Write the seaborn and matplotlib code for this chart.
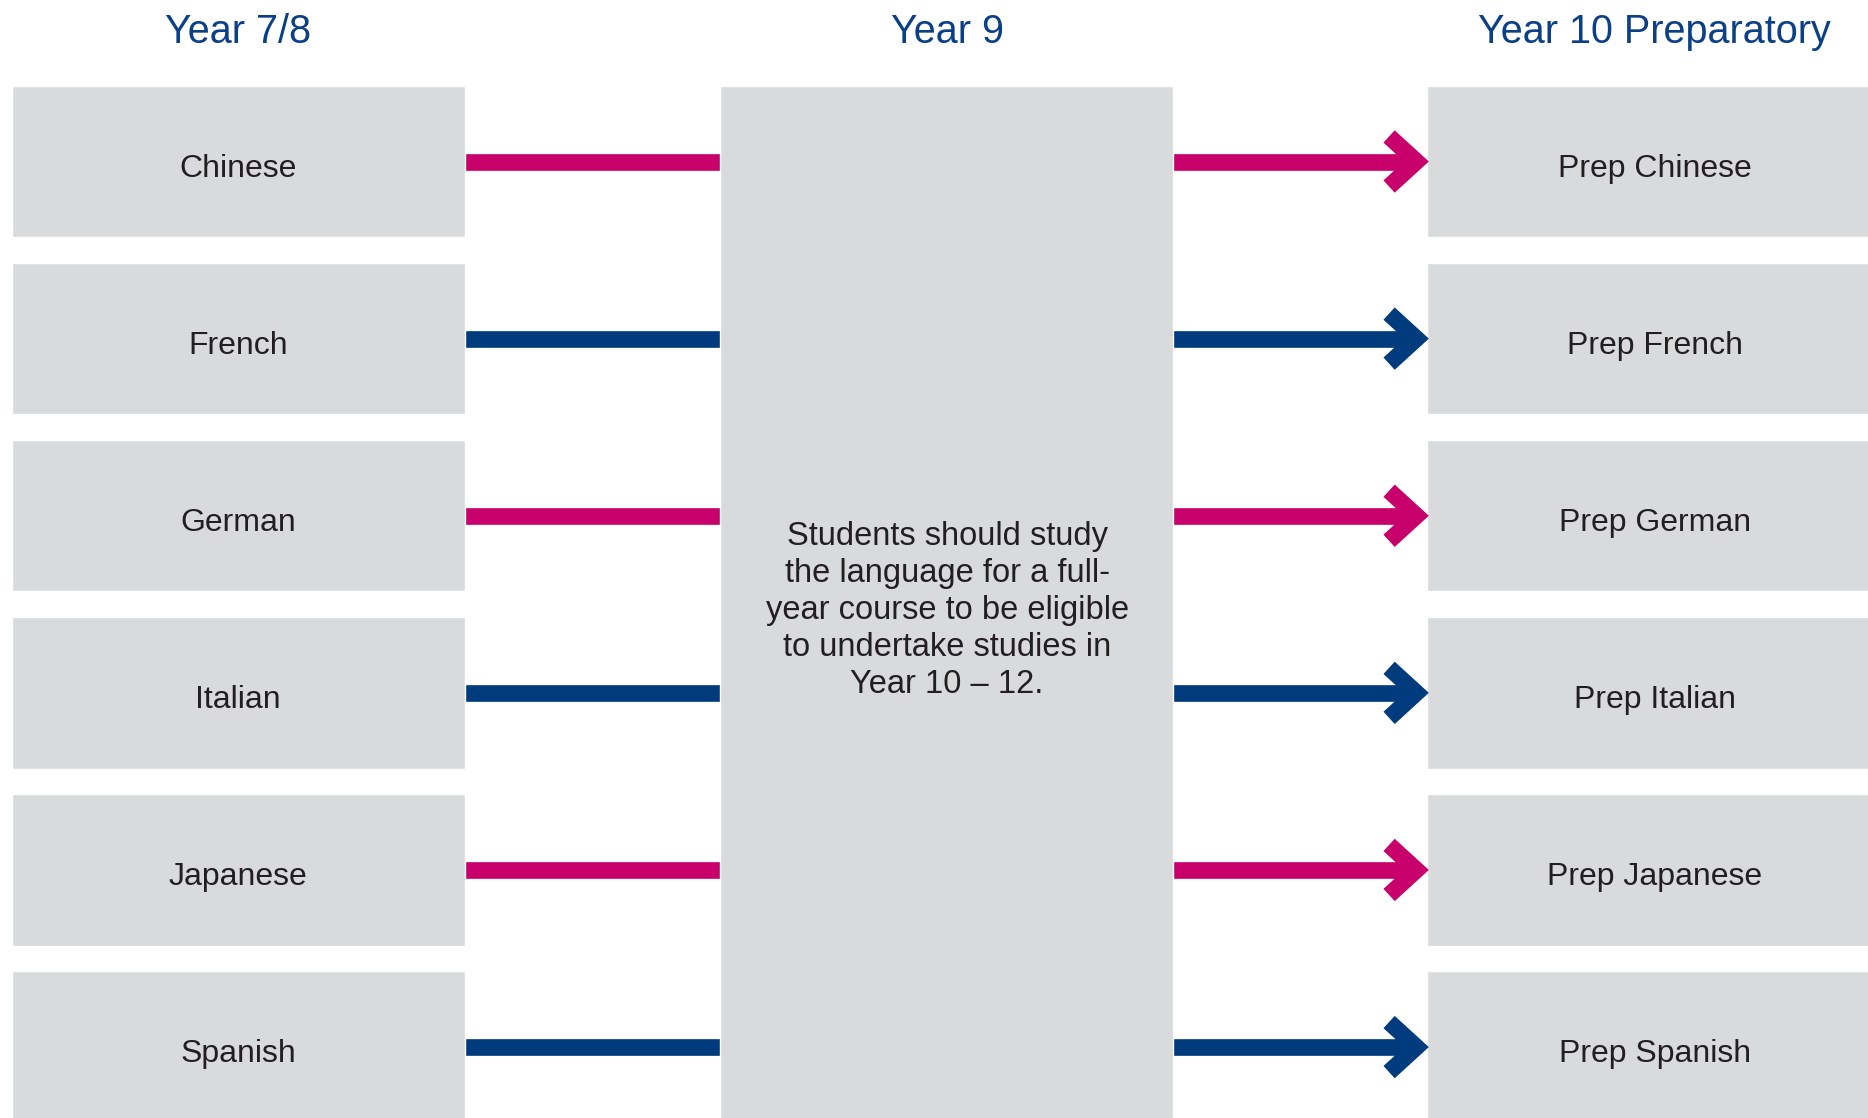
"""Year 7/8 -> Year 9 -> Year 10 language pathway diagram."""
import matplotlib.pyplot as plt
import seaborn as sns

# --- content -------------------------------------------------------------
HEADERS = ["Year 7/8", "Year 9", "Year 10 Preparatory"]
LANGUAGES = ["Chinese", "French", "German", "Italian", "Japanese", "Spanish"]
PREP_LABELS = ["Prep " + lang for lang in LANGUAGES]
LINK_COLORS = ["pink", "navy", "pink", "navy", "pink", "navy"]
NOTE = ("Students should study\nthe language for a full-\n"
        "year course to be eligible\nto undertake studies in\nYear 10 \u2013 12.")

# --- styling / layout (units = pixels of a 1568 x 938 canvas) -------------
PALETTE = {"pink": "#c8006b", "navy": "#003c7d"}
BOX_GREY = "#d9dadc"
HEADER_BLUE = "#0b3f86"
TEXT_DARK = "#231f20"

W, H = 1568, 938
ROW0, PITCH, BOX_H = 135.5, 148.6, 127
LEFT_COL = (10, 390)
MID_COL = (604, 985)
RIGHT_COL = (1198, 1590)
MID_TOP = 72
LINE_W = 12.0      # points
HEAD_DX, HEAD_DY, MITER = 32, 21, 9


def main():
    sns.set_theme(style="white")
    plt.rcParams["font.family"] = ["Liberation Sans", "DejaVu Sans"]

    fig = plt.figure(figsize=(18.68, 11.18), dpi=100)
    ax = fig.add_axes([0, 0, 1, 1])
    ax.set_xlim(0, W)
    ax.set_ylim(H, 0)
    ax.axis("off")

    rows = [ROW0 + i * PITCH for i in range(len(LANGUAGES))]
    header_x = [200, 795, 1389]

    # column headers
    for x, label in zip(header_x, HEADERS):
        ax.text(x, 27, label, ha="center", va="center", fontsize=28.5,
                color=HEADER_BLUE)

    # boxes
    ax.barh(rows, LEFT_COL[1] - LEFT_COL[0], left=LEFT_COL[0], height=BOX_H,
            color=BOX_GREY, zorder=2)
    ax.barh(rows, RIGHT_COL[1] - RIGHT_COL[0], left=RIGHT_COL[0], height=BOX_H,
            color=BOX_GREY, zorder=2)
    ax.bar(sum(MID_COL) / 2, H + 20 - MID_TOP, bottom=MID_TOP,
           width=MID_COL[1] - MID_COL[0], color=BOX_GREY, zorder=2)

    # connectors and arrows
    for y, key in zip(rows, LINK_COLORS):
        c = PALETTE[key]
        ax.plot([LEFT_COL[1], MID_COL[0]], [y, y], color=c, lw=LINE_W,
                solid_capstyle="butt", zorder=1)
        tip = RIGHT_COL[0] - MITER
        ax.plot([MID_COL[1], tip], [y, y], color=c, lw=LINE_W,
                solid_capstyle="butt", zorder=1)
        ax.plot([tip - HEAD_DX + MITER, tip, tip - HEAD_DX + MITER],
                [y - HEAD_DY, y, y + HEAD_DY], color=c, lw=LINE_W,
                solid_capstyle="butt", solid_joinstyle="miter", zorder=3)

    # labels
    for y, lang, prep in zip(rows, LANGUAGES, PREP_LABELS):
        ax.text(header_x[0], y + 6, lang, ha="center", va="center",
                fontsize=23, color=TEXT_DARK, zorder=4)
        ax.text(header_x[2], y + 6, prep, ha="center", va="center",
                fontsize=23, color=TEXT_DARK, zorder=4)

    ax.text(header_x[1], 512, NOTE, ha="center", va="center", fontsize=23.5,
            color=TEXT_DARK, linespacing=1.25, zorder=4)

    fig.savefig("out.png", dpi=100)
    plt.close(fig)


if __name__ == "__main__":
    main()
